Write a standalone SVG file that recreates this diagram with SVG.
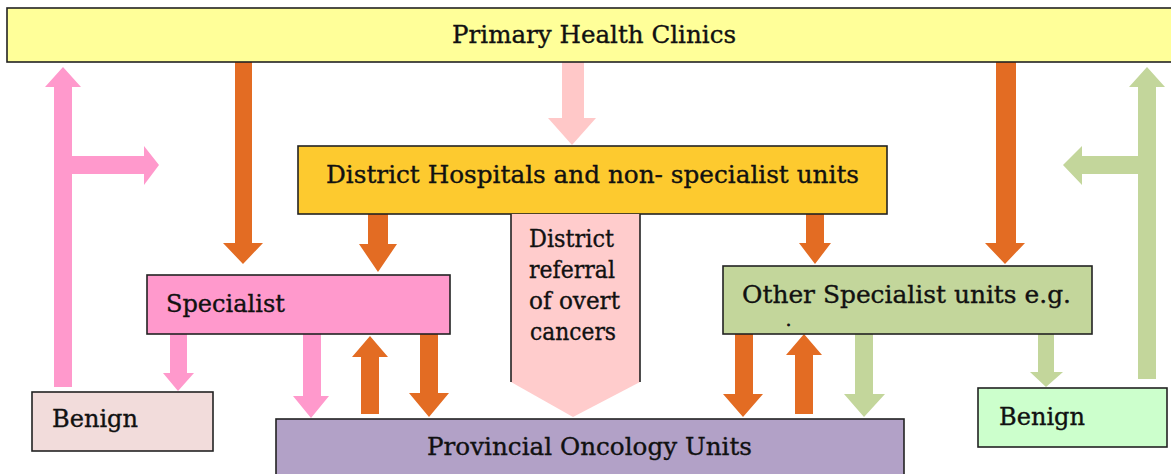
<svg xmlns="http://www.w3.org/2000/svg" width="1171" height="474" viewBox="0 0 1171 474">
<style>
.box{stroke:#222;stroke-width:1.6}
.t{font-family:"DejaVu Serif","Liberation Serif",serif;font-size:24px;fill:#111;stroke:#111;stroke-width:0.35}
.or{fill:#E36C23}
.pk{fill:#FF99CC}
.lp{fill:#FFC8C8}
.gr{fill:#C3D69B}
</style>
<rect width="1171" height="474" fill="#fff"/>
<g id="connectors">
<polygon class="or" points="235,62 252,62 252,243 263,243 243,264 223,243 235,243"/>
<polygon class="lp" points="562,62 584,62 584,118 596,118 572,145 548,118 562,118"/>
<polygon class="or" points="368,213 388,213 388,244 397,244 378,272 359,244 368,244"/>
<polygon class="or" points="806,213 824,213 824,243 831,243 815,264 799,243 806,243"/>
<polygon class="or" points="996,62 1016,62 1016,243 1025,243 1005,264 985,243 996,243"/>
<polygon class="pk" points="170,334 187,334 187,373 194,373 178,391 163,373 170,373"/>
<polygon class="pk" points="303,334 321,334 321,396 329,396 311,418 293,396 303,396"/>
<polygon class="or" points="361,414 379,414 379,357 388,357 370,336 352,357 361,357"/>
<polygon class="or" points="420,334 438,334 438,393 449,393 429,417 409,393 420,393"/>
<polygon class="or" points="735,334 753,334 753,394 763,394 743,417 723,394 735,394"/>
<polygon class="or" points="795,414 813,414 813,355 822,355 804,334 786,355 795,355"/>
<polygon class="gr" points="855,334 873,334 873,394 885,394 864,417 844,394 855,394"/>
<polygon class="gr" points="1038,334 1054,334 1054,372 1063,372 1046,387 1030,372 1038,372"/>
<polygon class="pk" points="54,387 54,87 45,87 63,67 81,87 72,87 72,156 144,156 144,146 159,165 144,185 144,174 72,174 72,387"/>
<polygon class="gr" points="1138,379 1138,174 1082,174 1082,185 1063,165 1082,146 1082,156 1138,156 1138,87 1129,87 1147,67 1165,87 1156,87 1156,379"/>
</g>
<g id="primary">
<rect class="box" x="7" y="8" width="1180" height="54" fill="#FFFF99"/>
<text class="t" x="452" y="43" textLength="284" lengthAdjust="spacingAndGlyphs">Primary Health Clinics</text>
</g>
<g id="district">
<rect class="box" x="298" y="146" width="589" height="68" fill="#FDCA2F"/>
<text class="t" x="326" y="183" textLength="533" lengthAdjust="spacingAndGlyphs">District Hospitals and non- specialist units</text>
</g>
<g id="district-referral">
<polygon points="511,214 640,214 640,382 573,417 511,382" fill="#FFCCCC"/>
<path d="M511,214 V382 M640,214 V382" stroke="#222" stroke-width="1.6" fill="none"/>
<text class="t" x="529" y="247" textLength="85" lengthAdjust="spacingAndGlyphs">District</text>
<text class="t" x="529" y="278" textLength="86" lengthAdjust="spacingAndGlyphs">referral</text>
<text class="t" x="529" y="309" textLength="91" lengthAdjust="spacingAndGlyphs">of overt</text>
<text class="t" x="530" y="340" textLength="86" lengthAdjust="spacingAndGlyphs">cancers</text>
</g>
<g id="specialist">
<rect class="box" x="147" y="275" width="303" height="59" fill="#FF99CC"/>
<text class="t" x="166" y="312" textLength="119" lengthAdjust="spacingAndGlyphs">Specialist</text>
</g>
<g id="other-specialist">
<rect class="box" x="723" y="266" width="369" height="68" fill="#C3D69B"/>
<text class="t" x="742" y="303" textLength="329" lengthAdjust="spacingAndGlyphs">Other Specialist units e.g.</text>
<text class="t" x="786" y="326" style="font-size:16px;stroke-width:0.8">.</text>
</g>
<g id="benign-left">
<rect class="box" x="32" y="392" width="181" height="59" fill="#F2DCDB"/>
<text class="t" x="52" y="427" textLength="86" lengthAdjust="spacingAndGlyphs">Benign</text>
</g>
<g id="benign-right">
<rect class="box" x="978" y="388" width="189" height="59" fill="#CCFFCC"/>
<text class="t" x="999" y="425" textLength="86" lengthAdjust="spacingAndGlyphs">Benign</text>
</g>
<g id="provincial">
<rect class="box" x="276" y="419" width="628" height="70" fill="#B2A1C7"/>
<text class="t" x="427" y="455" textLength="325" lengthAdjust="spacingAndGlyphs">Provincial Oncology Units</text>
</g>
</svg>
